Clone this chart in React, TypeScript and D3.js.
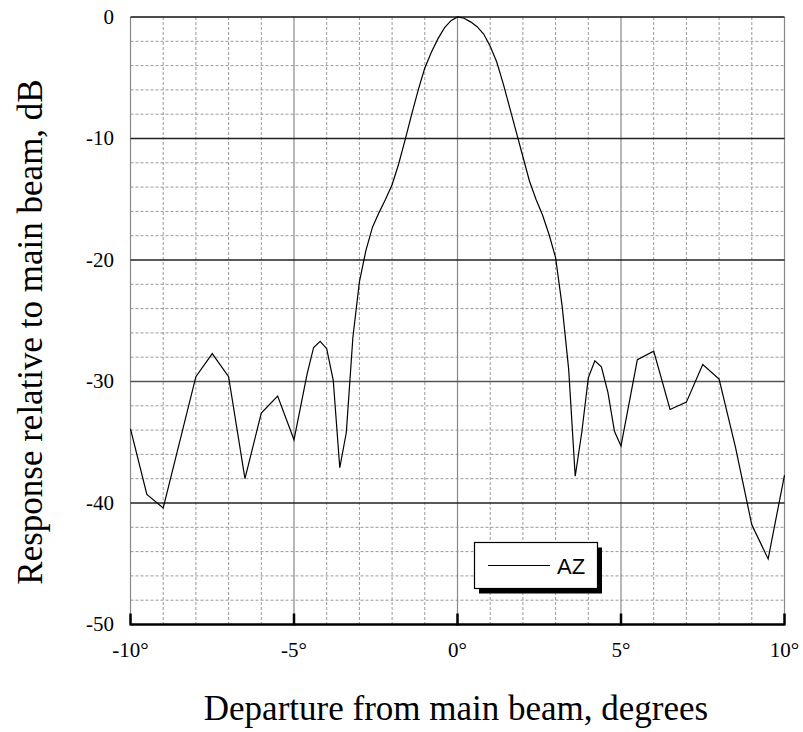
import { useRef, useEffect } from 'react'
import * as d3 from 'd3'

// beam pattern, azimuth cut
const angles = [
  -10, -9.5, -9, -8, -7.5, -7, -6.5, -6, -5.5, -5, -4.6, -4.4, -4.2, -4.0, -3.8, -3.6, -3.4, -3.2,
  -3.0, -2.8, -2.6, -2.4, -2.2, -2.0, -1.8, -1.6, -1.4, -1.2, -1.0, -0.8, -0.6, -0.4, -0.2, 0,
  0.2, 0.4, 0.6, 0.8, 1.0, 1.2, 1.4, 1.6, 1.8, 2.0, 2.2, 2.4, 2.6, 2.8, 3.0, 3.2, 3.4, 3.6,
  3.8, 4.0, 4.2, 4.4, 4.6, 4.8, 5.0, 5.5, 6.0, 6.5, 7.0, 7.5, 8.0, 8.5, 9.0, 9.5, 10,
]
const response = [
  -33.9, -39.3, -40.4, -29.6, -27.7, -29.6, -38.0, -32.6, -31.2, -34.8, -29.4, -27.2, -26.7, -27.3, -29.9, -37.1, -34.2, -26.4,
  -21.8, -19.2, -17.3, -16.1, -15.0, -13.8, -12.1, -10.1, -8.0, -6.0, -4.2, -2.9, -1.8, -0.9, -0.3, 0,
  -0.1, -0.4, -0.8, -1.4, -2.4, -3.7, -5.5, -7.5, -9.5, -11.5, -13.5, -15.0, -16.3, -17.9, -19.8, -23.8, -29.0, -37.8,
  -34.2, -29.7, -28.3, -28.8, -30.9, -34.1, -35.3, -28.2, -27.5, -32.3, -31.7, -28.6, -29.8, -35.4, -41.8, -44.6, -37.7,
]
const xTicks = [-10, -5, 0, 5, 10]
const yTicks = [0, -10, -20, -30, -40, -50]
const seriesName = 'AZ'

function App() {
  const ref = useRef<SVGSVGElement>(null)
  useEffect(() => {
    const svg = d3.select(ref.current)
    svg.selectAll('*').remove()
    const x = d3.scaleLinear().domain([-10, 10]).range([130.5, 784.5])
    const y = d3.scaleLinear().domain([-50, 0]).range([624.5, 17])
    const serif = "Liberation Serif, Times New Roman, serif"

    const grid = svg.append('g')
    // minor grid
    grid.selectAll('.vminor')
      .data(d3.range(-9, 10).filter(d => d % 5 !== 0))
      .enter().append('line')
      .attr('x1', d => x(d)).attr('x2', d => x(d))
      .attr('y1', y(0)).attr('y2', y(-50))
      .attr('stroke', '#999').attr('stroke-dasharray', '3,2')
    grid.selectAll('.hminor')
      .data(d3.range(-48, 0, 2).filter(d => d % 10 !== 0))
      .enter().append('line')
      .attr('x1', x(-10)).attr('x2', x(10))
      .attr('y1', d => y(d)).attr('y2', d => y(d))
      .attr('stroke', '#999').attr('stroke-dasharray', '3,2')
    // major grid
    grid.selectAll('.vmajor')
      .data(xTicks)
      .enter().append('line')
      .attr('x1', d => x(d)).attr('x2', d => x(d))
      .attr('y1', y(0)).attr('y2', y(-50))
      .attr('stroke', '#888').attr('stroke-width', 1.2)
    grid.selectAll('.hmajor')
      .data([-10, -20, -30, -40])
      .enter().append('line')
      .attr('x1', x(-10)).attr('x2', x(10))
      .attr('y1', d => y(d)).attr('y2', d => y(d))
      .attr('stroke', d => d === -30 ? '#555' : '#222').attr('stroke-width', 1.3)
    grid.append('line')
      .attr('x1', x(-10)).attr('x2', x(10))
      .attr('y1', y(0)).attr('y2', y(0))
      .attr('stroke', '#111').attr('stroke-width', 1.5)

    // bottom axis
    svg.append('line')
      .attr('x1', x(-10)).attr('x2', x(10))
      .attr('y1', y(-50)).attr('y2', y(-50))
      .attr('stroke', '#000').attr('stroke-width', 2.5)
    svg.selectAll('.tick')
      .data(xTicks)
      .enter().append('line')
      .attr('x1', d => x(d)).attr('x2', d => x(d))
      .attr('y1', y(-50) - 11).attr('y2', y(-50) + 1)
      .attr('stroke', '#000').attr('stroke-width', 2.5)

    svg.selectAll('.xlab')
      .data(xTicks)
      .enter().append('text')
      .attr('x', d => x(d)).attr('y', 657)
      .attr('text-anchor', 'middle')
      .attr('font-family', serif).attr('font-size', 21)
      .text(d => `${d}°`)
    svg.selectAll('.ylab')
      .data(yTicks)
      .enter().append('text')
      .attr('x', 114).attr('y', d => y(d) + 6.5)
      .attr('text-anchor', 'end')
      .attr('font-family', serif).attr('font-size', 21)
      .text(d => `${d}`)

    // curve
    const pts: [number, number][] = angles.map((a, i) => [a, response[i]])
    const line = d3.line<[number, number]>().x(d => x(d[0])).y(d => y(d[1]))
    svg.append('path')
      .datum(pts)
      .attr('d', line)
      .attr('fill', 'none')
      .attr('stroke', '#000')
      .attr('stroke-width', 1.2)

    // legend
    const lg = svg.append('g')
    lg.append('rect').attr('x', 479).attr('y', 547.5).attr('width', 123).attr('height', 46).attr('fill', '#000')
    lg.append('rect').attr('x', 474.5).attr('y', 542.5).attr('width', 123).attr('height', 46)
      .attr('fill', '#fff').attr('stroke', '#000').attr('stroke-width', 1.2)
    lg.append('line').attr('x1', 488).attr('x2', 550).attr('y1', 565.5).attr('y2', 565.5)
      .attr('stroke', '#000').attr('stroke-width', 1)
    lg.append('text').attr('x', 557).attr('y', 574)
      .attr('font-family', 'Liberation Sans, Arial, sans-serif').attr('font-size', 22)
      .text(seriesName)

    // titles
    svg.append('text')
      .attr('transform', 'translate(42,332)rotate(-90)')
      .attr('text-anchor', 'middle')
      .attr('font-family', serif).attr('font-size', 35)
      .text('Response relative to main beam, dB')
    svg.append('text')
      .attr('x', 456).attr('y', 720)
      .attr('text-anchor', 'middle')
      .attr('font-family', serif).attr('font-size', 35)
      .text('Departure from main beam, degrees')
  }, [])

  return (
    <svg ref={ref} width={803} height={732}
      style={{ position: 'absolute', left: 0, top: 0, background: '#fff' }} />
  )
}

export default App
